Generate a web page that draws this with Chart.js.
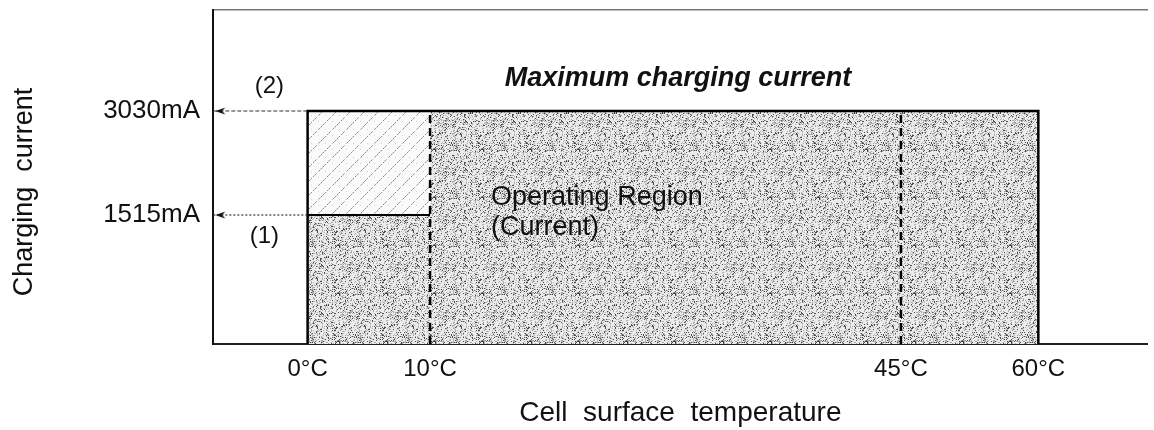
<!DOCTYPE html>
<html><head><meta charset="utf-8">
<script src="https://cdn.jsdelivr.net/npm/chart.js@4.4.0/dist/chart.umd.min.js"></script>
<style>html,body{margin:0;padding:0;background:#fff;}#wrap{width:1154px;height:430px;}</style>
</head><body><div id="wrap"><canvas id="c" width="1154" height="430"></canvas></div>
<script>
// ---- data ----
const tempTicks = [0, 10, 45, 60];              // °C tick positions
const tempLabels = ['0°C', '10°C', '45°C', '60°C'];
const currentTicks = [1515, 3030];              // mA
const currentLabels = ['1515mA', '3030mA'];
const regionTemps = [0, 60];                    // operating region span
const hatchTemps = [0, 10];                     // reduced-current span
const maxCurrent = 3030;
const reducedCurrent = 1515;
const dashedTemps = [10, 45];
const xAxisMin = -7.7, xAxisMax = 72;
const yAxisMin = 0, yAxisMax = 4500;
const arrowLabels = ['(1)', '(2)'];
const regionLabel = ['Operating Region', '(Current)'];
const titleText = 'Maximum charging current';
const xTitle = 'Cell  surface  temperature';
const yTitle = 'Charging  current    ';

// ---- layout (schematic, non-uniform axes) ----
const xFracs = [0.1012, 0.2322, 0.7359, 0.8829];
const yFracs = [0, 0.3862, 0.6976];
const knotStore = {
  x: { vals: tempTicks, fracs: xFracs, ticks: tempTicks },
  y: { vals: [0].concat(currentTicks), fracs: yFracs, ticks: currentTicks }
};

class PiecewiseScale extends Chart.LinearScale {
  static id = 'piecewise';
  static defaults = Chart.LinearScale.defaults;
  _seg(arr, v) {
    if (v <= arr[0]) return 0;
    if (v >= arr[arr.length - 1]) return arr.length - 2;
    let i = 0; while (v > arr[i + 1]) i++; return i;
  }
  _toFrac(v) {
    const k = knotStore[this.id]; const i = this._seg(k.vals, v);
    return k.fracs[i] + (v - k.vals[i]) * (k.fracs[i + 1] - k.fracs[i]) / (k.vals[i + 1] - k.vals[i]);
  }
  _fromFrac(f) {
    const k = knotStore[this.id]; const i = this._seg(k.fracs, f);
    return k.vals[i] + (f - k.fracs[i]) * (k.vals[i + 1] - k.vals[i]) / (k.fracs[i + 1] - k.fracs[i]);
  }
  getPixelForValue(v) {
    if (v === null || v === undefined || isNaN(v)) return NaN;
    return this.getPixelForDecimal(this._toFrac(v));
  }
  getValueForPixel(p) { return this._fromFrac(this.getDecimalForPixel(p)); }
  buildTicks() { return knotStore[this.id].ticks.map(v => ({ value: v })); }
}
Chart.register(PiecewiseScale);

const FONT = '"Liberation Sans", Arial, sans-serif';
Chart.defaults.font.family = FONT;
Chart.defaults.color = '#111';

const canvas = document.getElementById('c');
const ctx = canvas.getContext('2d');

function hash(i, j) {
  let h = (i * 374761393 + j * 668265263) | 0;
  h = Math.imul(h ^ (h >>> 13), 1274126177);
  h ^= h >>> 16;
  return (h >>> 0) / 4294967296;
}
function makeStipple() {
  const n = 48;
  const c = document.createElement('canvas'); c.width = n; c.height = n;
  const g = c.getContext('2d');
  g.fillStyle = '#ebebeb'; g.fillRect(0, 0, n, n);
  for (let i = 0; i < n; i++) for (let j = 0; j < n; j++) {
    const h = hash(i, j);
    if (h < 0.11) { g.fillStyle = '#4a4a4a'; g.fillRect(i, j, 1, 1); }
    else if (h < 0.32) { g.fillStyle = '#ababab'; g.fillRect(i, j, 1, 1); }
  }
  return ctx.createPattern(c, 'repeat');
}
function makeHatch() {
  const n = 14;
  const c = document.createElement('canvas'); c.width = n; c.height = n;
  const g = c.getContext('2d');
  g.fillStyle = '#fafafa'; g.fillRect(0, 0, n, n);
  for (let k = 0; k < n; k++) {
    if (k % 5 === 4) continue;
    g.fillStyle = k % 2 ? '#8f8f8f' : '#bcbcbc';
    g.fillRect(k, n - 1 - k, 1, 1);
  }
  g.fillStyle = '#d4d4d4'; g.fillRect(3, 3, 1, 1); g.fillRect(10, 9, 1, 1);
  return ctx.createPattern(c, 'repeat');
}
function makeArrow() {
  const c = document.createElement('canvas'); c.width = 26; c.height = 10;
  const g = c.getContext('2d'); g.fillStyle = '#111';
  g.beginPath(); g.moveTo(15, 5); g.lineTo(25, 1.5); g.lineTo(22, 5); g.lineTo(25, 8.5); g.closePath(); g.fill();
  return c;
}
const stipple = makeStipple();
const hatch = makeHatch();
const arrowImg = makeArrow();

const base = { type: 'line', pointRadius: 0, fill: false, tension: 0 };
const datasets = [
  Object.assign({}, base, { label: 'arrow2', order: 1,
    data: [{ x: xAxisMin, y: maxCurrent }, { x: regionTemps[0], y: maxCurrent }],
    borderColor: '#333', borderWidth: 1.2, borderDash: [4, 2],
    pointStyle: arrowImg, pointRadius: [5, 0] }),
  Object.assign({}, base, { label: 'arrow1', order: 1,
    data: [{ x: xAxisMin, y: reducedCurrent }, { x: regionTemps[0], y: reducedCurrent }],
    borderColor: '#333', borderWidth: 1.2, borderDash: [2, 2],
    pointStyle: arrowImg, pointRadius: [5, 0] }),
  Object.assign({}, base, { label: 'outline', order: 2,
    data: [{ x: regionTemps[0], y: 0 }, { x: regionTemps[0], y: maxCurrent }, { x: regionTemps[1], y: maxCurrent }, { x: regionTemps[1], y: 0 }],
    borderColor: '#000', borderWidth: 2.5 }),
  Object.assign({}, base, { label: 'reduced', order: 3,
    data: [{ x: hatchTemps[0], y: reducedCurrent }, { x: hatchTemps[1], y: reducedCurrent }],
    borderColor: '#000', borderWidth: 2 }),
  ...dashedTemps.map(t => Object.assign({}, base, { label: 'dash' + t, order: 4,
    data: [{ x: t, y: 0 }, { x: t, y: maxCurrent }],
    borderColor: '#000', borderWidth: 2.5, borderDash: [8, 5] })),
  Object.assign({}, base, { label: 'hatch', order: 8,
    data: [{ x: hatchTemps[0], y: maxCurrent }, { x: hatchTemps[1], y: maxCurrent }],
    borderWidth: 0, backgroundColor: hatch, fill: { value: reducedCurrent } }),
  Object.assign({}, base, { label: 'region', order: 9,
    data: [{ x: regionTemps[0], y: maxCurrent }, { x: regionTemps[1], y: maxCurrent }],
    borderWidth: 0, backgroundColor: stipple, fill: 'origin' })
];

const annot = {
  id: 'annot',
  beforeDraw(chart) {
    const c = chart.ctx; c.save(); c.fillStyle = '#fff'; c.fillRect(0, 0, chart.width, chart.height); c.restore();
  },
  afterDatasetsDraw(chart) {
    const { ctx: c, scales: { x, y }, chartArea: a } = chart;
    c.save();
    c.fillStyle = '#111';
    c.textBaseline = 'middle';
    c.textAlign = 'center';
    c.font = 'italic bold 27px ' + FONT;
    c.fillText(titleText, (x.getPixelForValue(regionTemps[0]) + x.getPixelForValue(regionTemps[1])) / 2 + 5, y.getPixelForValue(maxCurrent) - 32);
    c.font = '24px ' + FONT;
    const ax = (a.left + x.getPixelForValue(regionTemps[0])) / 2 + 9;
    c.fillText(arrowLabels[1], ax, y.getPixelForValue(maxCurrent) - 25);
    c.fillText(arrowLabels[0], ax - 5, y.getPixelForValue(reducedCurrent) + 21);
    c.textAlign = 'left';
    c.font = '27px ' + FONT;
    const rx = x.getPixelForValue(dashedTemps[0]) + 61;
    c.fillText(regionLabel[0], rx, y.getPixelForValue(reducedCurrent) - 17);
    c.fillText(regionLabel[1], rx, y.getPixelForValue(reducedCurrent) + 13);
    c.restore();
  }
};

new Chart(canvas, {
  type: 'line',
  data: { datasets },
  options: {
    responsive: false, animation: false, devicePixelRatio: 1,
    layout: { padding: { left: 0, right: 2, top: 10, bottom: 0 } },
    plugins: { legend: { display: false }, tooltip: { enabled: false }, title: { display: false } },
    scales: {
      x: {
        type: 'piecewise', position: 'bottom', min: xAxisMin, max: xAxisMax,
        grid: { display: false, drawTicks: false },
        border: { display: true, color: '#222', width: 2 },
        ticks: { autoSkip: false, maxRotation: 0, padding: 11, font: { size: 24 }, color: '#111',
          callback: (v, i) => tempLabels[i] },
        title: { display: true, text: xTitle, font: { size: 28 }, color: '#111', padding: { top: 0, bottom: 0 } },
        afterFit: s => { s.height = 86; s.paddingLeft = 0; s.paddingRight = 0; }
      },
      x2: {
        type: 'linear', position: 'top', min: 0, max: 1, display: true,
        grid: { display: false, drawTicks: false },
        border: { display: true, color: '#777', width: 1.5 },
        ticks: { display: false },
        afterFit: s => { s.height = 0; s.paddingLeft = 0; s.paddingRight = 0; }
      },
      y: {
        type: 'piecewise', position: 'left', min: yAxisMin, max: yAxisMax,
        grid: { display: false, drawTicks: false },
        border: { display: true, color: '#111', width: 2 },
        ticks: { autoSkip: false, padding: 13, font: { size: 26 }, color: '#111',
          callback: (v, i) => currentLabels[i] },
        title: { display: true, text: yTitle, font: { size: 27 }, color: '#111', padding: { top: 8, bottom: 0 } },
        afterFit: s => { s.width = 213; s.paddingTop = 0; s.paddingBottom = 0; }
      }
    }
  },
  plugins: [annot]
});
</script>
</body></html>
